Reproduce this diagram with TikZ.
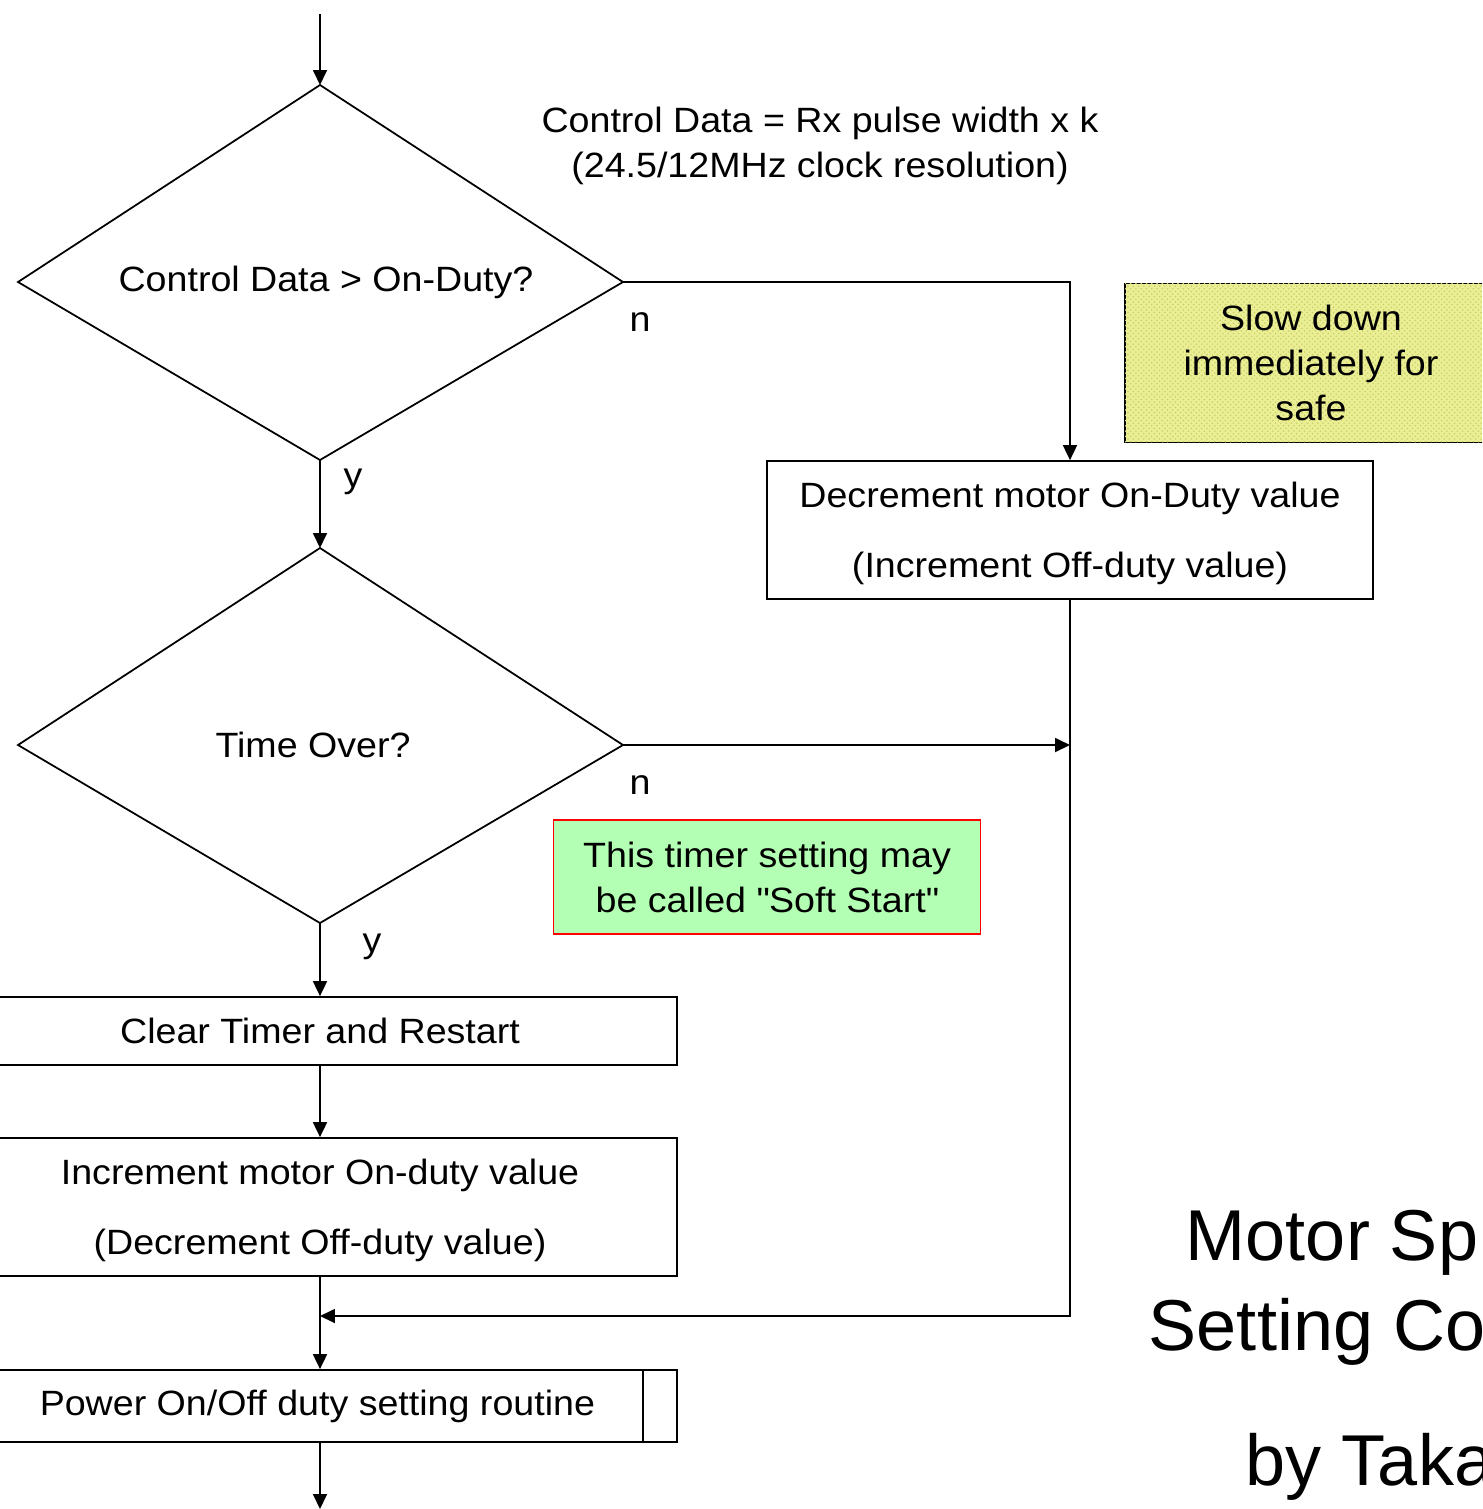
\documentclass[tikz,border=0pt]{standalone}
\usepackage{fontspec}
\setmainfont{Liberation Sans}
\newfontfamily\chartfont{Liberation Sans}[FakeStretch=1.07]
\usetikzlibrary{arrows.meta, patterns}

\definecolor{notegreen}{RGB}{179,255,179}
\definecolor{noteyellow}{RGB}{236,238,150}
\definecolor{dotgreen}{RGB}{195,210,100}

\tikzset{
	process/.style={rectangle, draw, inner sep=0pt, minimum width=14.28cm, align=center},
	twoline/.style={font=\chartfont\fontsize{20}{39.8}\selectfont, text depth=-4pt},
}

\begin{document}
\begin{tikzpicture}[x=0.02cm, y=-0.02cm, line width=1pt,
		>={Triangle[length=0.3cm, width=0.28cm]},
		font=\chartfont\fontsize{20}{25.6}\selectfont]
				\clip (0,0) rectangle (1482,1509);
				\coordinate (start) at (320,14);
				% decisions
				\foreach \name/\y in {over/282, time/745} {
					\coordinate (\name N) at (320,\y-197);
					\coordinate (\name E) at (623,\y);
					\coordinate (\name S) at (320,\y+178);
					\coordinate (\name W) at (18,\y);
					\draw[line join=miter] (\name N) -- (\name E) -- (\name S) -- (\name W) -- cycle;
				}
				\node (over) at (326,282) {Control Data > On-Duty?};
				\node (time) at (313,745) {Time Over?};
				% boxes
				\node[process, twoline, minimum width=12.12cm, minimum height=2.76cm] (dec) at (1070,530) {Decrement motor On-Duty value\\(Increment Off-duty value)};
				\node[process, minimum height=1.36cm] (clear) at (320,1031) {Clear Timer and Restart};
				\node[process, twoline, minimum height=2.76cm] (inc) at (320,1207) {Increment motor On-duty value\\(Decrement Off-duty value)};
				\node[process, minimum height=1.44cm] (power) at (320,1406) {\hspace*{-3pt}Power On/Off duty setting routine};
				\draw ([xshift=-0.7cm]power.north east) -- ([xshift=-0.7cm]power.south east);
				\draw ([xshift=0.7cm]power.north west) -- ([xshift=0.7cm]power.south west);
				\coordinate (merge) at (320,1316);
				\coordinate (end) at (320,1509);
				% notes
				\node[align=center] (formula) at (820,146) {Control Data = Rx pulse width x k\\(24.5/12MHz clock resolution)};
				\node[draw, fill=noteyellow, postaction={pattern=crosshatch dots, pattern color=dotgreen}, minimum width=7.44cm, minimum height=3.18cm, align=center] (slow) at (1311,363) {Slow down\\immediately for\\safe};
				\node[draw=red, fill=notegreen, minimum width=8.54cm, minimum height=2.28cm, align=center] (soft) at (767,877) {This timer setting may\\be called \textquotedbl Soft Start\textquotedbl};
				% branch labels
				\node (n1) at (640,322) {n};
				\node (y1) at (353,482) {y};
				\node (n2) at (640,785) {n};
				\node (y2) at (372,947) {y};
				% flow
				\draw[->] (start) -- (overN);
				\draw[->] (overE) -| (dec.north);
				\draw[->] (overS) -- (timeN);
				\draw[->] (timeE) -- (dec.south |- timeE);
				\draw[->] (dec.south) |- (merge);
				\draw[->] (timeS) -- (clear);
				\draw[->] (clear) -- (inc);
				\draw[->] (inc) -- (power);
				\draw[->] (power) -- (end);
				% title
				\node[anchor=base west, inner sep=0pt, font=\fontsize{41}{50}\selectfont] (title1) at (1185,1260) {Motor Sp};
				\node[anchor=base west, inner sep=0pt, font=\fontsize{41}{50}\selectfont] (title2) at (1148,1350) {Setting Co};
				\node[anchor=base west, inner sep=0pt, font=\fontsize{41}{50}\selectfont] (title3) at (1245,1485) {by Taka};
\end{tikzpicture}
\end{document}
